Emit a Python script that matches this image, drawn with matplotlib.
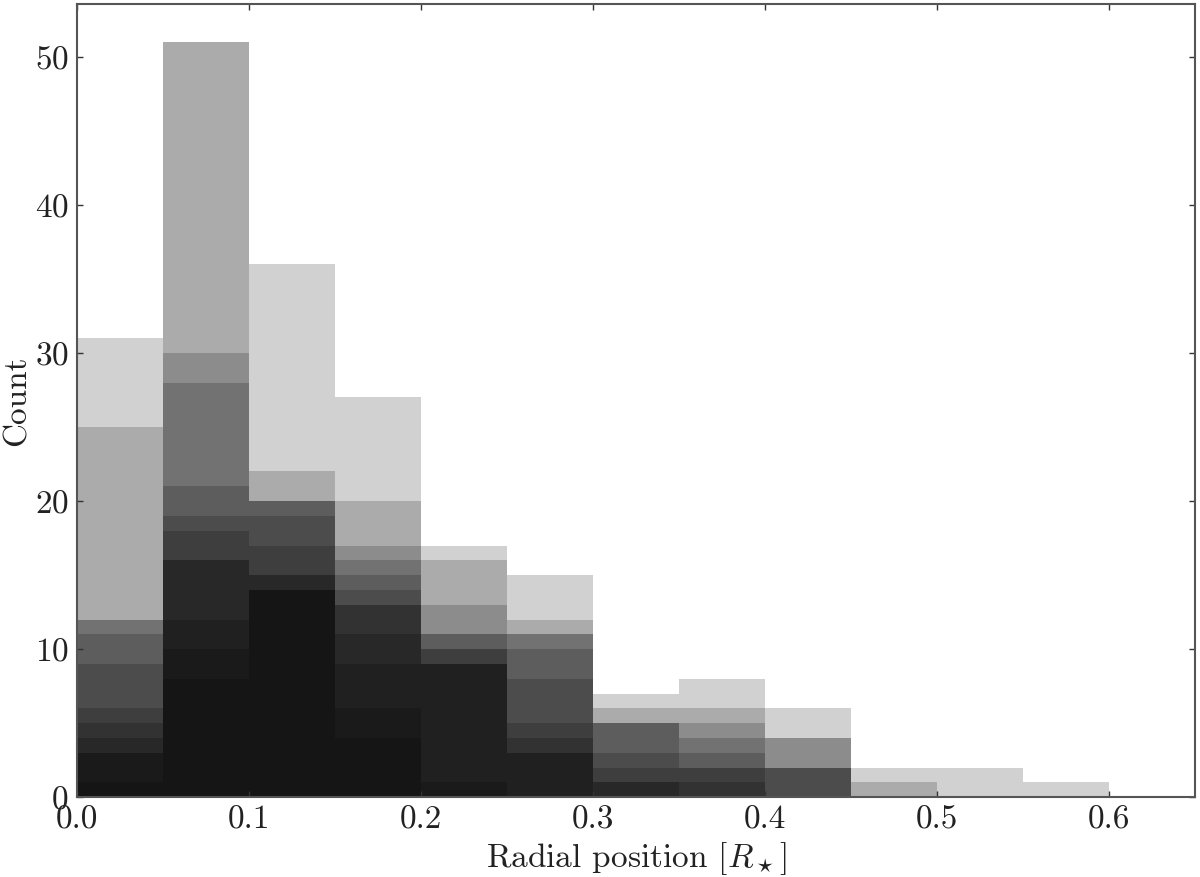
import numpy as np
import matplotlib
matplotlib.use('Agg')
import matplotlib.pyplot as plt

plt.rcParams['font.family'] = 'serif'
plt.rcParams['font.serif'] = ['cmr10']
plt.rcParams['mathtext.fontset'] = 'cm'
plt.rcParams['axes.formatter.use_mathtext'] = True

# bin edges in radial position [R_star]
edges = np.arange(0.0, 0.6001, 0.05)

# counts per bin for each nested subset (outermost first)
layer01 = [31, 51, 36, 27, 17, 15, 7, 8, 6, 2, 2, 1]
layer02 = [25, 51, 22, 20, 16, 12, 6, 6, 4, 1, 0, 0]
layer03 = [12, 30, 20, 17, 13, 11, 5, 5, 4, 0, 0, 0]
layer04 = [12, 28, 20, 16, 11, 11, 5, 4, 2, 0, 0, 0]
layer05 = [11, 21, 20, 15, 11, 10, 5, 3, 2, 0, 0, 0]
layer06 = [9, 19, 19, 14, 10, 8, 3, 2, 2, 0, 0, 0]
layer07 = [6, 18, 17, 13, 10, 5, 2, 2, 0, 0, 0, 0]
layer08 = [5, 16, 15, 13, 9, 4, 1, 1, 0, 0, 0, 0]
layer09 = [4, 16, 15, 11, 9, 3, 1, 0, 0, 0, 0, 0]
layer10 = [3, 12, 14, 9, 9, 3, 0, 0, 0, 0, 0, 0]
layer11 = [3, 10, 14, 6, 1, 0, 0, 0, 0, 0, 0, 0]
layer12 = [1, 8, 14, 4, 0, 0, 0, 0, 0, 0, 0, 0]

layers = [layer01, layer02, layer03, layer04, layer05, layer06,
          layer07, layer08, layer09, layer10, layer11, layer12]

fig = plt.figure(figsize=(12, 8.77), dpi=100)
ax = fig.add_axes([0.064, 0.091, 0.932, 0.904])

for lay in layers:
    ax.bar(edges[:-1], lay, width=0.05, align='edge', color='k',
           alpha=0.18, linewidth=0)

ax.set_xlim(0, 0.65)
ax.set_ylim(0, 53.55)
ax.set_xticks([0.0, 0.1, 0.2, 0.3, 0.4, 0.5, 0.6])
ax.set_xticklabels(['0.0', '0.1', '0.2', '0.3', '0.4', '0.5', '0.6'])
ax.set_yticks([0, 10, 20, 30, 40, 50])

ax.tick_params(direction='in', top=True, right=True, length=4, width=1,
               labelsize=24, colors='#333333', labelcolor='#222222', pad=6)
for sp in ax.spines.values():
    sp.set_color('#555555')
    sp.set_linewidth(1.5)

ax.set_xlabel(r'Radial position [$R_\star$]', fontsize=24, color='#222222', labelpad=4)
ax.set_ylabel('Count', fontsize=24, color='#222222', labelpad=0)
ax.yaxis.set_label_coords(-0.040, 0.5)

fig.savefig('out.png', dpi=100)
